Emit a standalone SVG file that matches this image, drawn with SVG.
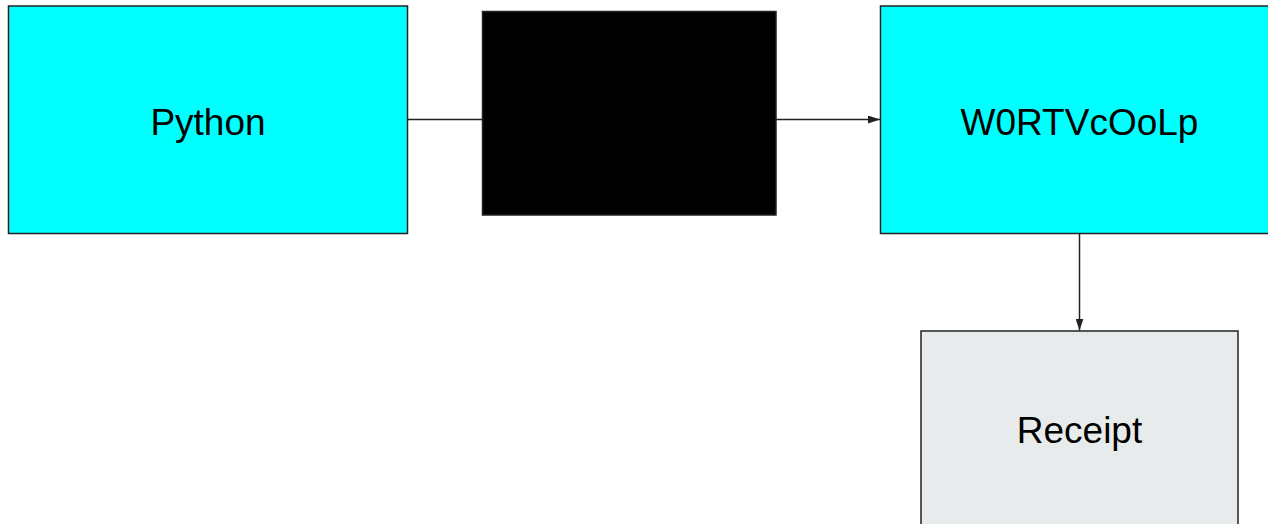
<svg xmlns="http://www.w3.org/2000/svg" width="1268" height="524" viewBox="0 0 1268 524">
<style>
.node{stroke:#222;stroke-width:1.5}
.lbl{font-family:"Liberation Sans",Arial,sans-serif;font-size:37px;fill:#000;text-anchor:middle}
.edge{stroke:#222;stroke-width:1.5;fill:none}
</style>
<defs>
<marker id="arr" viewBox="0 0 12 8" refX="12" refY="4" markerWidth="12" markerHeight="8" markerUnits="userSpaceOnUse" orient="auto">
<path d="M0,0 L12,4 L0,8 z" fill="#222"/>
</marker>
</defs>
<rect width="1268" height="524" fill="#fff"/>
<g id="connectors">
<line class="edge" x1="407.5" y1="119.5" x2="482.5" y2="119.5"/>
<line class="edge" x1="776" y1="119.5" x2="880" y2="119.5" marker-end="url(#arr)"/>
<line class="edge" x1="1079.5" y1="233.5" x2="1079.5" y2="330.5" marker-end="url(#arr)"/>
</g>
<g id="python">
<rect class="node" x="8.5" y="6" width="399" height="227.5" fill="#00ffff"/>
<text class="lbl" x="208" y="135">Python</text>
</g>
<g id="black">
<rect class="node" x="482.5" y="11.5" width="293.5" height="203.5" fill="#000"/>
</g>
<g id="w0rt">
<rect class="node" x="880.5" y="6" width="399" height="227.5" fill="#00ffff"/>
<text class="lbl" x="1079.5" y="135">W0RTVcOoLp</text>
</g>
<g id="receipt">
<rect class="node" x="921" y="331" width="317" height="220" fill="#e8ebec"/>
<text class="lbl" x="1079.5" y="443">Receipt</text>
</g>
</svg>
